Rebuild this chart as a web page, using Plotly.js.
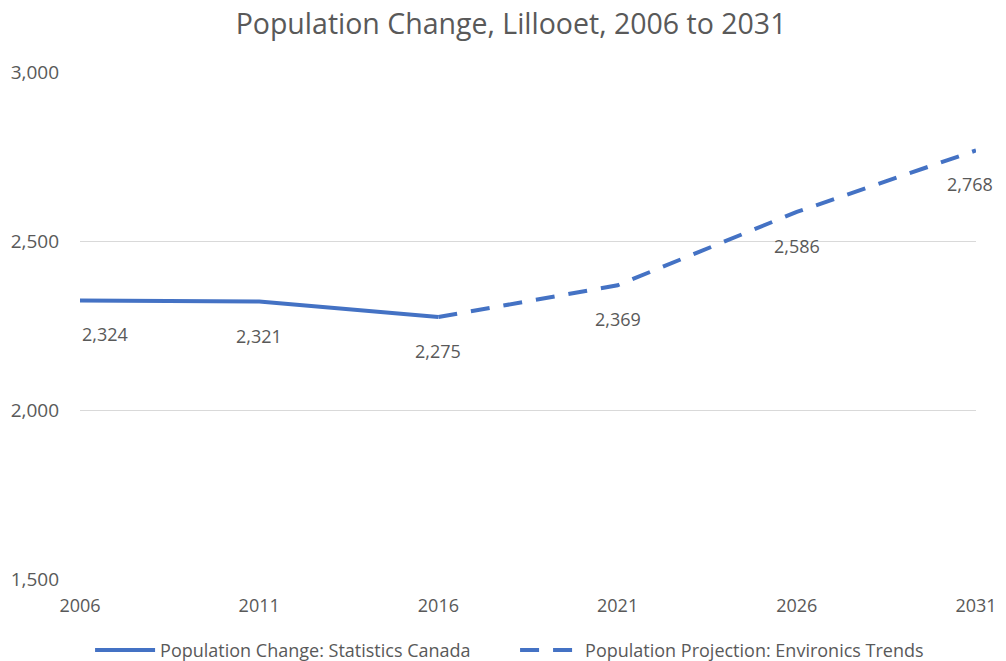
<!DOCTYPE html>
<html>
<head>
<meta charset="utf-8">
<script src="https://cdn.plot.ly/plotly-3.0.1.min.js"></script>
<style>html,body{margin:0;padding:0;background:#fff;}#chart{width:1006px;height:661px;}</style>
</head>
<body>
<div id="chart"></div>
<script>
const years = [2006, 2011, 2016, 2021, 2026, 2031];
const actualYears = [2006, 2011, 2016];
const actualValues = [2324, 2321, 2275];
const projYears = [2016, 2021, 2026, 2031];
const projValues = [2275, 2369, 2586, 2768];
const labelYears = [2006, 2011, 2016, 2021, 2026, 2031];
const labelValues = [2324, 2321, 2275, 2369, 2586, 2768];
const labelXShift = [25, 0, 0, 0, 0, -6];

const color = '#4472C4';
const textColor = '#595959';
const fontFam = '"Open Sans", sans-serif';

const traces = [
  {x: actualYears, y: actualValues, type: 'scatter', mode: 'lines',
   name: 'Population Change: Statistics Canada',
   line: {color: color, width: 4}},
  {x: projYears, y: projValues, type: 'scatter', mode: 'lines',
   name: 'Population Projection: Environics Trends',
   line: {color: color, width: 4, dash: '19px,14px'}}
];

const annotations = labelYears.map((yr, i) => ({
  x: yr, y: labelValues[i], xref: 'x', yref: 'y',
  text: labelValues[i].toLocaleString('en-US'),
  showarrow: false, yshift: -34, xshift: labelXShift[i],
  font: {size: 18, color: textColor, family: fontFam}
}));

const layout = {
  width: 1006, height: 661,
  margin: {l: 80, r: 30, t: 72, b: 82},
  paper_bgcolor: '#fff', plot_bgcolor: '#fff',
  font: {family: fontFam, color: textColor, size: 17},
  title: {text: 'Population Change, Lillooet, 2006 to 2031', x: 0.508, xanchor: 'center', y: 0.963, yanchor: 'middle',
          font: {size: 28.5, color: textColor, family: fontFam}},
  xaxis: {range: [2006, 2031], tickvals: years, ticktext: years.map(String), showgrid: false,
          zeroline: false, showline: false, ticks: '', ticklabelstandoff: 14, automargin: false,
          tickfont: {size: 18, color: textColor}},
  yaxis: {range: [1500, 3000], dtick: 500, tick0: 1500, tickformat: ',', showgrid: true,
          gridcolor: '#D9D9D9', gridwidth: 1, zeroline: false, showline: false, ticks: '',
          ticklabelstandoff: 20, automargin: false, tickfont: {size: 19, color: textColor}},
  showlegend: true,
  legend: {orientation: 'h', x: 0.512, xanchor: 'center', xref: 'container', yref: 'container', y: 0.016, yanchor: 'middle',
           font: {size: 18, color: textColor}, itemwidth: 60, entrywidth: 350, itemclick: false},
  annotations: annotations
};

Plotly.newPlot('chart', traces, layout, {displayModeBar: false, staticPlot: true});
</script>
</body>
</html>
